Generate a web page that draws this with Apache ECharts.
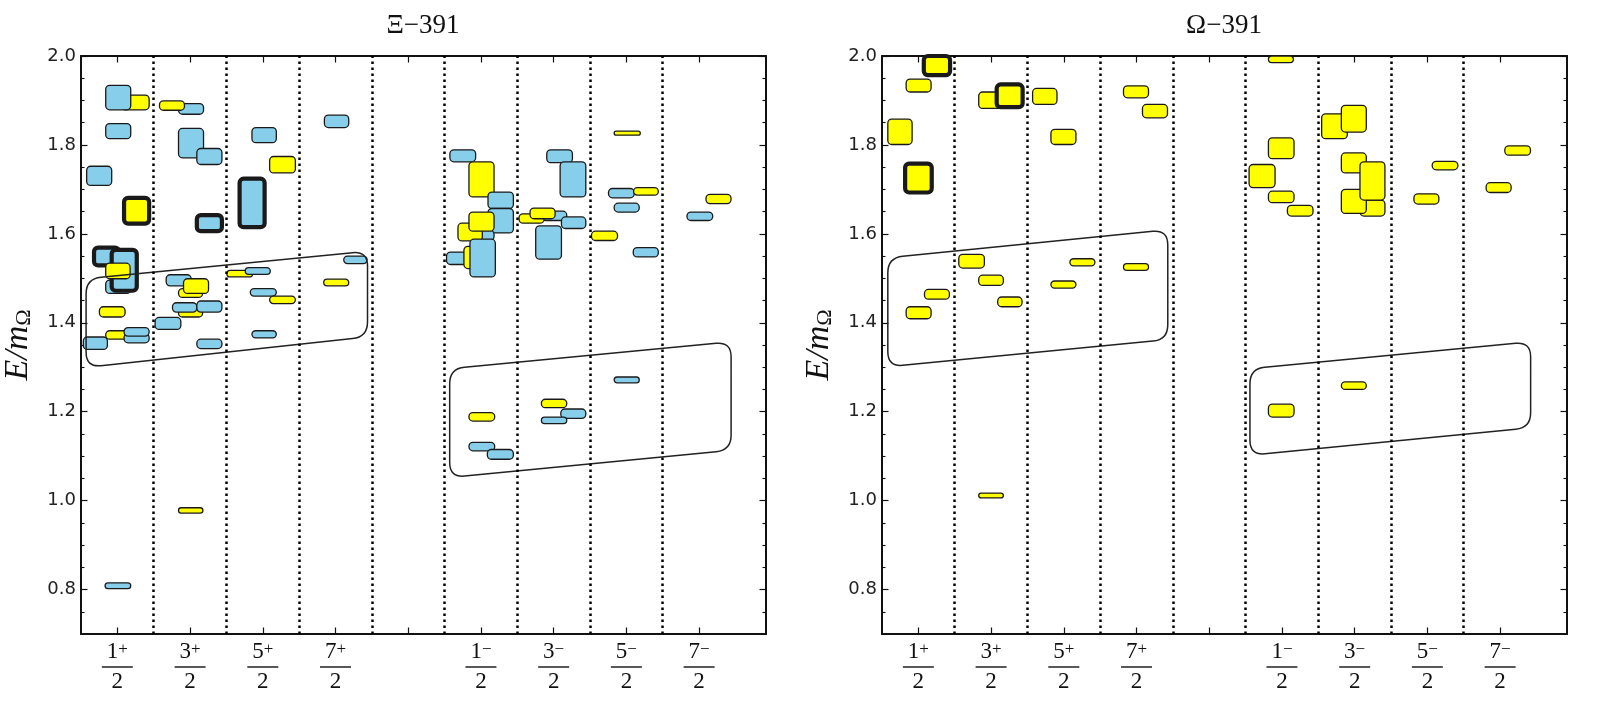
<!DOCTYPE html>
<html><head><meta charset="utf-8">
<script src="https://cdn.jsdelivr.net/npm/echarts@6/dist/echarts.min.js"></script>
<style>html,body{margin:0;padding:0;background:#fff}#c{width:1611px;height:709px}</style>
</head><body><div id="c"></div>
<script>
// ---------- data ----------
const panelTitles = ['Ξ−391', 'Ω−391'];
const labelPos = [0.5, 1.5, 2.5, 3.5, 5.5, 6.5, 7.5, 8.5];
const tickPos = [0.5, 1.5, 2.5, 3.5, 4.5, 5.5, 6.5, 7.5, 8.5];
const spinNum = ['1', '3', '5', '7', '1', '3', '5', '7'];
const parity = ['+', '+', '+', '+', '−', '−', '−', '−'];
const dividers = [1, 2, 3, 4, 5, 6, 7, 8];
const yMajor = [0.8, 1.0, 1.2, 1.4, 1.6, 1.8, 2.0];
const yMinor = [0.75, 0.85, 0.9, 0.95, 1.05, 1.1, 1.15, 1.25, 1.3, 1.35, 1.45, 1.5, 1.55, 1.65, 1.7, 1.75, 1.85, 1.9, 1.95];

// boxes: [xFrom, xTo, Elow, Ehigh, group (0 = blue, 1 = yellow), highlighted]
const xiBoxes = [
  [0.55, 0.937, 1.879, 1.912, 1, 0],
  [0.340, 0.684, 1.879, 1.934, 0, 0],
  [1.341, 1.685, 1.869, 1.893, 0, 0],
  [1.079, 1.423, 1.878, 1.899, 1, 0],
  [0.340, 0.684, 1.814, 1.848, 0, 0],
  [1.341, 1.685, 1.771, 1.837, 0, 0],
  [1.593, 1.938, 1.756, 1.792, 0, 0],
  [2.351, 2.686, 1.805, 1.839, 0, 0],
  [3.347, 3.682, 1.839, 1.867, 0, 0],
  [2.594, 2.948, 1.737, 1.774, 1, 0],
  [0.078, 0.422, 1.709, 1.752, 0, 0],
  [0.592, 0.937, 1.623, 1.681, 1, 1],
  [1.593, 1.938, 1.606, 1.642, 0, 1],
  [2.181, 2.525, 1.615, 1.724, 0, 1],
  [0.179, 0.523, 1.529, 1.569, 0, 1],
  [0.340, 0.684, 1.466, 1.496, 0, 0],
  [0.422, 0.767, 1.472, 1.564, 0, 1],
  [0.340, 0.675, 1.499, 1.534, 1, 0],
  [0.253, 0.606, 1.413, 1.436, 1, 0],
  [0.340, 0.684, 1.363, 1.382, 1, 0],
  [0.592, 0.937, 1.355, 1.376, 0, 0],
  [0.592, 0.937, 1.370, 1.389, 0, 0],
  [0.032, 0.363, 1.340, 1.368, 0, 0],
  [1.171, 1.515, 1.483, 1.508, 0, 0],
  [1.341, 1.672, 1.457, 1.477, 1, 0],
  [1.410, 1.754, 1.466, 1.499, 1, 0],
  [1.341, 1.672, 1.413, 1.430, 1, 0],
  [1.258, 1.593, 1.424, 1.445, 0, 0],
  [1.593, 1.938, 1.424, 1.449, 0, 0],
  [1.019, 1.373, 1.385, 1.412, 0, 0],
  [1.593, 1.938, 1.342, 1.363, 0, 0],
  [2.006, 2.360, 1.503, 1.518, 1, 0],
  [2.259, 2.603, 1.509, 1.524, 0, 0],
  [2.328, 2.686, 1.460, 1.477, 0, 0],
  [2.594, 2.948, 1.443, 1.460, 1, 0],
  [2.351, 2.686, 1.366, 1.382, 0, 0],
  [3.338, 3.682, 1.483, 1.498, 1, 0],
  [3.613, 3.935, 1.533, 1.550, 0, 0],
  [1.341, 1.676, 0.972, 0.984, 1, 0],
  [0.331, 0.684, 0.802, 0.815, 0, 0],
  [5.073, 5.427, 1.762, 1.789, 0, 0],
  [5.335, 5.680, 1.683, 1.762, 1, 0],
  [5.597, 5.946, 1.657, 1.694, 0, 0],
  [5.597, 5.946, 1.602, 1.657, 0, 0],
  [5.400, 5.680, 1.585, 1.608, 0, 0],
  [5.184, 5.519, 1.584, 1.624, 1, 0],
  [5.335, 5.680, 1.606, 1.649, 1, 0],
  [5.027, 5.370, 1.531, 1.559, 0, 0],
  [5.266, 5.600, 1.522, 1.572, 1, 0],
  [5.349, 5.698, 1.503, 1.588, 0, 0],
  [6.330, 6.680, 1.630, 1.651, 0, 0],
  [6.024, 6.368, 1.624, 1.645, 1, 0],
  [6.175, 6.520, 1.634, 1.658, 1, 0],
  [6.405, 6.758, 1.760, 1.789, 0, 0],
  [6.589, 6.942, 1.683, 1.762, 0, 0],
  [6.607, 6.942, 1.612, 1.638, 0, 0],
  [6.253, 6.607, 1.543, 1.618, 0, 0],
  [7.332, 7.691, 1.822, 1.831, 1, 0],
  [7.254, 7.608, 1.681, 1.702, 0, 0],
  [7.599, 7.939, 1.687, 1.704, 1, 0],
  [7.332, 7.677, 1.649, 1.669, 0, 0],
  [7.020, 7.378, 1.585, 1.606, 1, 0],
  [7.594, 7.939, 1.548, 1.569, 0, 0],
  [8.595, 8.939, 1.668, 1.689, 1, 0],
  [8.333, 8.687, 1.630, 1.649, 0, 0],
  [5.335, 5.689, 1.179, 1.198, 1, 0],
  [5.335, 5.689, 1.112, 1.131, 0, 0],
  [5.588, 5.946, 1.093, 1.115, 0, 0],
  [6.331, 6.680, 1.209, 1.228, 1, 0],
  [6.598, 6.942, 1.185, 1.206, 0, 0],
  [6.331, 6.680, 1.173, 1.188, 0, 0],
  [7.332, 7.677, 1.265, 1.278, 0, 0]
];

const omegaBoxes = [
  [0.575, 0.936, 1.957, 2.010, 1, 1],
  [0.332, 0.675, 1.919, 1.948, 1, 0],
  [0.080, 0.414, 1.801, 1.858, 1, 0],
  [0.318, 0.684, 1.693, 1.758, 1, 1],
  [1.330, 1.669, 1.882, 1.919, 1, 0],
  [1.577, 1.934, 1.885, 1.936, 1, 1],
  [2.071, 2.406, 1.891, 1.927, 1, 0],
  [2.323, 2.667, 1.801, 1.835, 1, 0],
  [3.321, 3.665, 1.906, 1.933, 1, 0],
  [3.582, 3.926, 1.861, 1.891, 1, 0],
  [1.056, 1.408, 1.523, 1.554, 1, 0],
  [1.330, 1.669, 1.484, 1.507, 1, 0],
  [1.591, 1.926, 1.436, 1.458, 1, 0],
  [0.584, 0.927, 1.453, 1.475, 1, 0],
  [0.332, 0.675, 1.409, 1.436, 1, 0],
  [2.323, 2.667, 1.478, 1.494, 1, 0],
  [2.584, 2.928, 1.528, 1.544, 1, 0],
  [3.321, 3.665, 1.518, 1.533, 1, 0],
  [1.330, 1.669, 1.006, 1.017, 1, 0],
  [5.314, 5.657, 1.985, 2.010, 1, 0],
  [6.046, 6.399, 1.814, 1.870, 1, 0],
  [6.317, 6.660, 1.829, 1.889, 1, 0],
  [5.314, 5.666, 1.769, 1.816, 1, 0],
  [5.048, 5.405, 1.704, 1.756, 1, 0],
  [5.314, 5.666, 1.670, 1.696, 1, 0],
  [5.575, 5.927, 1.640, 1.664, 1, 0],
  [6.317, 6.660, 1.737, 1.782, 1, 0],
  [6.573, 6.916, 1.640, 1.676, 1, 0],
  [6.317, 6.660, 1.646, 1.700, 1, 0],
  [6.573, 6.916, 1.676, 1.762, 1, 0],
  [7.315, 7.658, 1.667, 1.690, 1, 0],
  [7.566, 7.919, 1.744, 1.763, 1, 0],
  [8.308, 8.652, 1.693, 1.715, 1, 0],
  [8.565, 8.918, 1.777, 1.798, 1, 0],
  [5.314, 5.666, 1.188, 1.217, 1, 0],
  [6.317, 6.660, 1.250, 1.267, 1, 0]
];

// outlined bands: [xLeft, xRight, E bottom-left, E bottom-right, E top-right, E top-left]
const xiBands = [
  [0.07, 3.94, 1.300, 1.368, 1.561, 1.499],
  [5.07, 8.94, 1.052, 1.113, 1.357, 1.297]
];
const omegaBands = [
  [0.08, 3.93, 1.301, 1.362, 1.609, 1.546],
  [5.06, 8.92, 1.102, 1.164, 1.357, 1.297]
];

// ---------- chart ----------
const BLUE = '#87CEEB', YELLOW = '#FFFF00', INK = '#111';
const chart = echarts.init(document.getElementById('c'));

function renderBox(params, api) {
  const x0 = api.value(0), x1 = api.value(1), y0 = api.value(2), y1 = api.value(3);
  const grp = api.value(4), bold = api.value(5);
  const a = api.coord([x0, y1]), b = api.coord([x1, y0]);
  const cs = params.coordSys;
  const rect = echarts.graphic.clipRectByRect(
    {x: a[0], y: a[1], width: b[0] - a[0], height: b[1] - a[1]},
    {x: cs.x, y: cs.y, width: cs.width, height: cs.height});
  if (!rect) return;
  const r = Math.min(4, rect.height / 2, rect.width / 2);
  return {
    type: 'rect',
    shape: {x: rect.x, y: rect.y, width: rect.width, height: rect.height, r: r},
    style: {fill: grp ? YELLOW : BLUE, stroke: '#1a1a1a', lineWidth: bold ? 4.2 : 1.3}
  };
}

function toward(c, p, r) {
  const dx = p[0] - c[0], dy = p[1] - c[1];
  const L = Math.sqrt(dx * dx + dy * dy) || 1;
  return [c[0] + dx / L * r, c[1] + dy / L * r];
}

function renderBand(params, api) {
  const xL = api.value(0), xR = api.value(1);
  const P = [
    api.coord([xL, api.value(5)]),
    api.coord([xR, api.value(4)]),
    api.coord([xR, api.value(3)]),
    api.coord([xL, api.value(2)])
  ];
  const r = 15;
  let d = '';
  for (let i = 0; i < 4; i++) {
    const c = P[i], prev = P[(i + 3) % 4], next = P[(i + 1) % 4];
    const s = toward(c, prev, r), e = toward(c, next, r);
    d += (i === 0 ? 'M' : 'L') + s[0].toFixed(2) + ' ' + s[1].toFixed(2) +
      ' Q' + c[0].toFixed(2) + ' ' + c[1].toFixed(2) + ' ' + e[0].toFixed(2) + ' ' + e[1].toFixed(2) + ' ';
  }
  d += 'Z';
  return {type: 'path', shape: {pathData: d}, style: {fill: 'none', stroke: '#222', lineWidth: 1.5}};
}

const panels = [
  {title: panelTitles[0], boxes: xiBoxes, bands: xiBands},
  {title: panelTitles[1], boxes: omegaBoxes, bands: omegaBands}
];
const gridLeft = [81, 882];
const titleCenter = [418, 1219];

const grid = [], xAxis = [], yAxis = [], series = [], title = [];
const serifFont = 'Liberation Serif';

panels.forEach((p, g) => {
  grid.push({left: gridLeft[g], top: 56, width: 685, height: 578});
  title.push({
    text: p.title, left: titleCenter[g], top: 7, textAlign: 'center',
    textStyle: {fontFamily: serifFont, fontSize: 27, fontWeight: 'normal', color: INK}
  });
  const axLine = {show: true, onZero: false, lineStyle: {color: INK, width: 2}};
  const xBase = {
    type: 'value', gridIndex: g, min: 0, max: 9.42, splitLine: {show: false},
    axisLine: axLine,
    axisTick: {show: true, inside: true, length: 6.5, lineStyle: {color: INK, width: 1.2}, customValues: tickPos}
  };
  xAxis.push(Object.assign({}, xBase, {
    position: 'bottom',
    axisLabel: {
      show: true, margin: 7, customValues: labelPos,
      formatter: function (v) {
        const i = labelPos.findIndex(q => Math.abs(q - v) < 1e-6);
        if (i < 0) return '';
        return '{n|' + spinNum[i] + '}{s|' + parity[i] + '}\n{b|}\n{d|2}';
      },
      rich: {
        n: {fontFamily: serifFont, fontSize: 23, lineHeight: 22, color: INK},
        s: {fontFamily: serifFont, fontSize: 17, lineHeight: 13, verticalAlign: 'top', color: INK},
        b: {width: 31, height: 1.4, lineHeight: 8, backgroundColor: INK},
        d: {fontFamily: serifFont, fontSize: 23, lineHeight: 22, color: INK}
      }
    }
  }));
  xAxis.push(Object.assign({}, xBase, {position: 'top', axisLabel: {show: false}}));

  const yBase = {type: 'value', gridIndex: g, min: 0.7, max: 2.0, splitLine: {show: false}};
  const majorTick = {show: true, inside: true, length: 6.5, lineStyle: {color: INK, width: 1.2}, customValues: yMajor};
  const minorTick = {show: true, inside: true, length: 3.5, lineStyle: {color: INK, width: 1.1}, customValues: yMinor};
  yAxis.push(Object.assign({}, yBase, {
    position: 'left', axisLine: axLine, axisTick: majorTick,
    axisLabel: {
      show: true, customValues: yMajor, margin: 5,
      formatter: v => v.toFixed(1),
      fontFamily: 'DejaVu Sans', fontSize: 18, color: '#222'
    },
    name: '{e|E/m}{o|Ω}', nameLocation: 'middle', nameRotate: 90, nameGap: 46,
    nameTextStyle: {
      rich: {
        e: {fontFamily: serifFont, fontStyle: 'italic', fontSize: 34, lineHeight: 34, color: INK},
        o: {fontFamily: serifFont, fontSize: 22, lineHeight: 18, verticalAlign: 'bottom', color: INK}
      }
    }
  }));
  yAxis.push(Object.assign({}, yBase, {position: 'left', axisLine: {show: false, onZero: false}, axisTick: minorTick, axisLabel: {show: false}}));
  yAxis.push(Object.assign({}, yBase, {position: 'right', axisLine: axLine, axisTick: majorTick, axisLabel: {show: false}}));
  yAxis.push(Object.assign({}, yBase, {position: 'right', axisLine: {show: false, onZero: false}, axisTick: minorTick, axisLabel: {show: false}}));

  series.push({type: 'custom', xAxisIndex: 2 * g, yAxisIndex: 4 * g, renderItem: renderBox, data: p.boxes, z: 2, silent: true});
  series.push({type: 'custom', xAxisIndex: 2 * g, yAxisIndex: 4 * g, renderItem: renderBand, data: p.bands, z: 4, silent: true});
  series.push({
    type: 'line', xAxisIndex: 2 * g, yAxisIndex: 4 * g, data: [], z: 5, silent: true,
    markLine: {
      silent: true, symbol: ['none', 'none'], label: {show: false},
      lineStyle: {type: [2.5, 3.5], color: '#000', width: 2.5},
      emphasis: {disabled: true},
      data: dividers.map(v => ({xAxis: v}))
    }
  });
});

chart.setOption({animation: false, backgroundColor: '#fff', title, grid, xAxis, yAxis, series});
</script>
</body></html>
